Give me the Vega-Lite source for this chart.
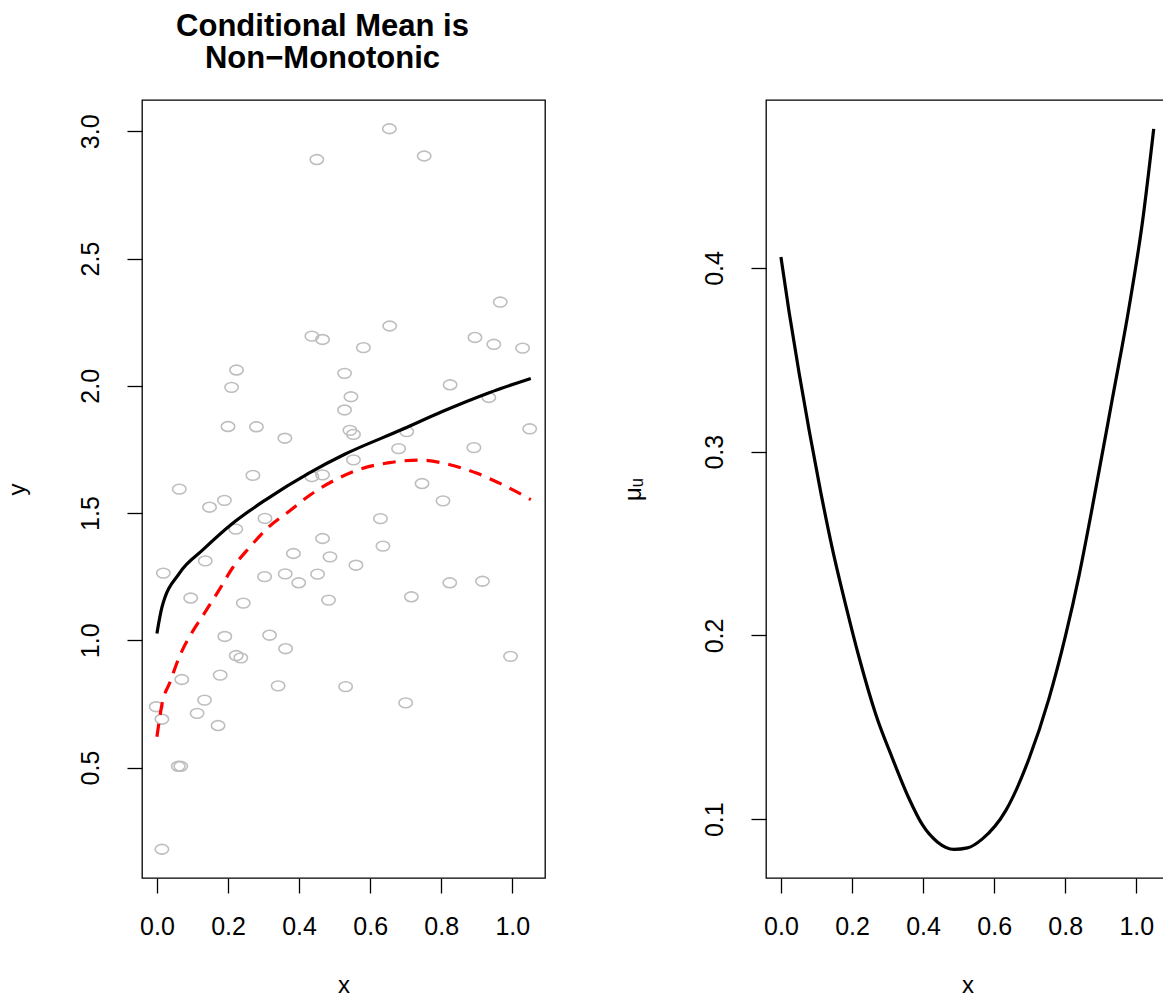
{
  "$schema": "https://vega.github.io/schema/vega-lite/v6.json",
  "background": "white",
  "padding": {"left": 4, "top": 9, "right": 0, "bottom": 0},
  "datasets": {
    "pts": [
      {"x": 0.450, "y": 2.889}, {"x": 0.654, "y": 3.010}, {"x": 0.752, "y": 2.903}, {"x": 0.436, "y": 2.195},
      {"x": 0.466, "y": 2.182}, {"x": 0.966, "y": 2.329}, {"x": 0.655, "y": 2.235}, {"x": 0.581, "y": 2.150},
      {"x": 0.895, "y": 2.190}, {"x": 0.948, "y": 2.163}, {"x": 1.029, "y": 2.148}, {"x": 0.224, "y": 2.062},
      {"x": 0.210, "y": 1.994}, {"x": 0.528, "y": 2.049}, {"x": 0.200, "y": 1.840}, {"x": 0.280, "y": 1.839},
      {"x": 0.360, "y": 1.794}, {"x": 0.528, "y": 1.905}, {"x": 0.543, "y": 1.825}, {"x": 0.553, "y": 1.809},
      {"x": 0.546, "y": 1.957}, {"x": 0.270, "y": 1.648}, {"x": 0.063, "y": 1.594}, {"x": 0.436, "y": 1.643},
      {"x": 0.466, "y": 1.650}, {"x": 0.148, "y": 1.523}, {"x": 0.190, "y": 1.550}, {"x": 0.304, "y": 1.479},
      {"x": 0.222, "y": 1.437}, {"x": 0.466, "y": 1.400}, {"x": 0.384, "y": 1.341}, {"x": 0.487, "y": 1.328},
      {"x": 0.136, "y": 1.312}, {"x": 0.018, "y": 1.264}, {"x": 0.303, "y": 1.250}, {"x": 0.361, "y": 1.261},
      {"x": 0.399, "y": 1.226}, {"x": 0.452, "y": 1.260}, {"x": 0.095, "y": 1.166}, {"x": 0.243, "y": 1.146},
      {"x": 0.483, "y": 1.158}, {"x": 0.825, "y": 2.004}, {"x": 0.934, "y": 1.954}, {"x": 0.703, "y": 1.820},
      {"x": 1.049, "y": 1.831}, {"x": 0.680, "y": 1.753}, {"x": 0.892, "y": 1.757}, {"x": 0.553, "y": 1.709},
      {"x": 0.746, "y": 1.616}, {"x": 0.805, "y": 1.548}, {"x": 0.629, "y": 1.478}, {"x": 0.636, "y": 1.370},
      {"x": 0.560, "y": 1.295}, {"x": 0.824, "y": 1.226}, {"x": 0.916, "y": 1.232}, {"x": 0.716, "y": 1.171},
      {"x": 0.191, "y": 1.015}, {"x": 0.317, "y": 1.020}, {"x": 0.362, "y": 0.967}, {"x": 0.223, "y": 0.940},
      {"x": 0.236, "y": 0.931}, {"x": 0.070, "y": 0.846}, {"x": 0.178, "y": 0.863}, {"x": 0.341, "y": 0.821},
      {"x": 0.531, "y": 0.818}, {"x": 0.134, "y": 0.765}, {"x": -0.002, "y": 0.739}, {"x": 0.113, "y": 0.713},
      {"x": 0.014, "y": 0.690}, {"x": 0.172, "y": 0.665}, {"x": 0.060, "y": 0.505}, {"x": 0.067, "y": 0.505},
      {"x": 0.014, "y": 0.179}, {"x": 0.700, "y": 0.754}, {"x": 0.995, "y": 0.937}
    ],
    "fit": [
      {"x": 0.000, "y": 1.027}, {"x": 0.014, "y": 1.129}, {"x": 0.064, "y": 1.265}, {"x": 0.129, "y": 1.355},
      {"x": 0.209, "y": 1.455}, {"x": 0.307, "y": 1.553}, {"x": 0.429, "y": 1.658}, {"x": 0.527, "y": 1.730},
      {"x": 0.691, "y": 1.829}, {"x": 0.803, "y": 1.899}, {"x": 0.935, "y": 1.973}, {"x": 1.052, "y": 2.029}
    ],
    "truth": [
      {"x": 0.000, "y": 0.621}, {"x": 0.015, "y": 0.754}, {"x": 0.036, "y": 0.833}, {"x": 0.064, "y": 0.938},
      {"x": 0.101, "y": 1.036}, {"x": 0.125, "y": 1.088}, {"x": 0.176, "y": 1.200}, {"x": 0.213, "y": 1.285},
      {"x": 0.260, "y": 1.364}, {"x": 0.312, "y": 1.442}, {"x": 0.373, "y": 1.508}, {"x": 0.433, "y": 1.573},
      {"x": 0.504, "y": 1.632}, {"x": 0.560, "y": 1.667}, {"x": 0.654, "y": 1.698}, {"x": 0.738, "y": 1.708},
      {"x": 0.822, "y": 1.691}, {"x": 0.897, "y": 1.658}, {"x": 0.972, "y": 1.612}, {"x": 1.052, "y": 1.553}
    ],
    "mu": [
      {"x": 0.000, "mu": 0.406}, {"x": 0.023, "mu": 0.376}, {"x": 0.051, "mu": 0.343}, {"x": 0.080, "mu": 0.311},
      {"x": 0.112, "mu": 0.278}, {"x": 0.145, "mu": 0.247}, {"x": 0.183, "mu": 0.216}, {"x": 0.220, "mu": 0.188},
      {"x": 0.267, "mu": 0.157}, {"x": 0.314, "mu": 0.133}, {"x": 0.361, "mu": 0.111}, {"x": 0.398, "mu": 0.097},
      {"x": 0.441, "mu": 0.0875}, {"x": 0.487, "mu": 0.0836}, {"x": 0.525, "mu": 0.0844}, {"x": 0.567, "mu": 0.0893},
      {"x": 0.633, "mu": 0.1048}, {"x": 0.698, "mu": 0.1329}, {"x": 0.754, "mu": 0.1655}, {"x": 0.801, "mu": 0.200},
      {"x": 0.839, "mu": 0.2327}, {"x": 0.872, "mu": 0.2654}, {"x": 0.933, "mu": 0.3292}, {"x": 0.980, "mu": 0.3790},
      {"x": 1.018, "mu": 0.426}, {"x": 1.049, "mu": 0.4757}
    ]
  },
  "config": {
    "font": "Liberation Sans",
    "view": {"stroke": "black", "strokeWidth": 1.3},
    "axis": {
      "grid": false, "domain": false,
      "tickColor": "black", "tickSize": 15, "tickWidth": 1.3,
      "labelFont": "Liberation Sans", "labelFontSize": 25, "labelColor": "black",
      "titleFont": "Liberation Sans", "titleFontSize": 24, "titleFontWeight": "normal", "titleColor": "black"
    }
  },
  "hconcat": [
    {
      "width": 403, "height": 778,
      "title": {
        "text": ["Conditional Mean is", "Non−Monotonic"],
        "fontSize": 31, "fontWeight": "bold", "font": "Liberation Sans", "color": "black",
        "lineHeight": 32, "baseline": "alphabetic", "offset": 1.5, "dx": -21, "anchor": "middle"
      },
      "layer": [
        {
          "data": {"name": "pts"},
          "mark": {"type": "point", "shape": "M -1 0 A 1 0.73 0 1 0 1 0 A 1 0.73 0 1 0 -1 0 Z", "size": 180, "filled": false, "stroke": "#bebebe", "strokeWidth": 1.6, "opacity": 1},
          "encoding": {
            "x": {"field": "x", "type": "quantitative",
                  "scale": {"domain": [-0.042, 1.092], "nice": false, "zero": false},
                  "axis": {"values": [0, 0.2, 0.4, 0.6, 0.8, 1.0], "format": ".1f", "title": "x", "labelPadding": 21, "titleY": 114, "titleBaseline": "alphabetic"}},
            "y": {"field": "y", "type": "quantitative",
                  "scale": {"domain": [0.066, 3.123], "nice": false, "zero": false},
                  "axis": {"values": [0.5, 1.0, 1.5, 2.0, 2.5, 3.0], "format": ".1f", "title": "y", "labelAngle": -90, "labelAlign": "center", "labelBaseline": "middle", "labelPadding": 37, "titleX": -125, "titleBaseline": "middle", "titleAngle": -90}}
          }
        },
        {
          "data": {"name": "fit"},
          "mark": {"type": "line", "color": "black", "strokeWidth": 3.2, "interpolate": "monotone"},
          "encoding": {
            "x": {"field": "x", "type": "quantitative"},
            "y": {"field": "y", "type": "quantitative"}
          }
        },
        {
          "data": {"name": "truth"},
          "mark": {"type": "line", "color": "#ff0000", "strokeWidth": 3.2, "strokeDash": [13, 9], "interpolate": "monotone"},
          "encoding": {
            "x": {"field": "x", "type": "quantitative"},
            "y": {"field": "y", "type": "quantitative"}
          }
        }
      ]
    },
    {
      "width": 403, "height": 778,
      "data": {"name": "mu"},
      "mark": {"type": "line", "color": "black", "strokeWidth": 3.2, "interpolate": "monotone"},
      "encoding": {
        "x": {"field": "x", "type": "quantitative",
              "scale": {"domain": [-0.042, 1.092], "nice": false, "zero": false},
              "axis": {"values": [0, 0.2, 0.4, 0.6, 0.8, 1.0], "format": ".1f", "title": "x", "labelPadding": 21, "titleY": 114, "titleBaseline": "alphabetic"}},
        "y": {"field": "mu", "type": "quantitative",
              "scale": {"domain": [0.068, 0.4914], "nice": false, "zero": false},
              "axis": {"values": [0.1, 0.2, 0.3, 0.4], "format": ".1f", "title": "μᵤ", "labelAngle": -90, "labelAlign": "center", "labelBaseline": "middle", "labelPadding": 37, "titleX": -133, "titleBaseline": "middle", "titleAngle": -90}}
      }
    }
  ],
  "spacing": 221,
  "bounds": "flush"
}
